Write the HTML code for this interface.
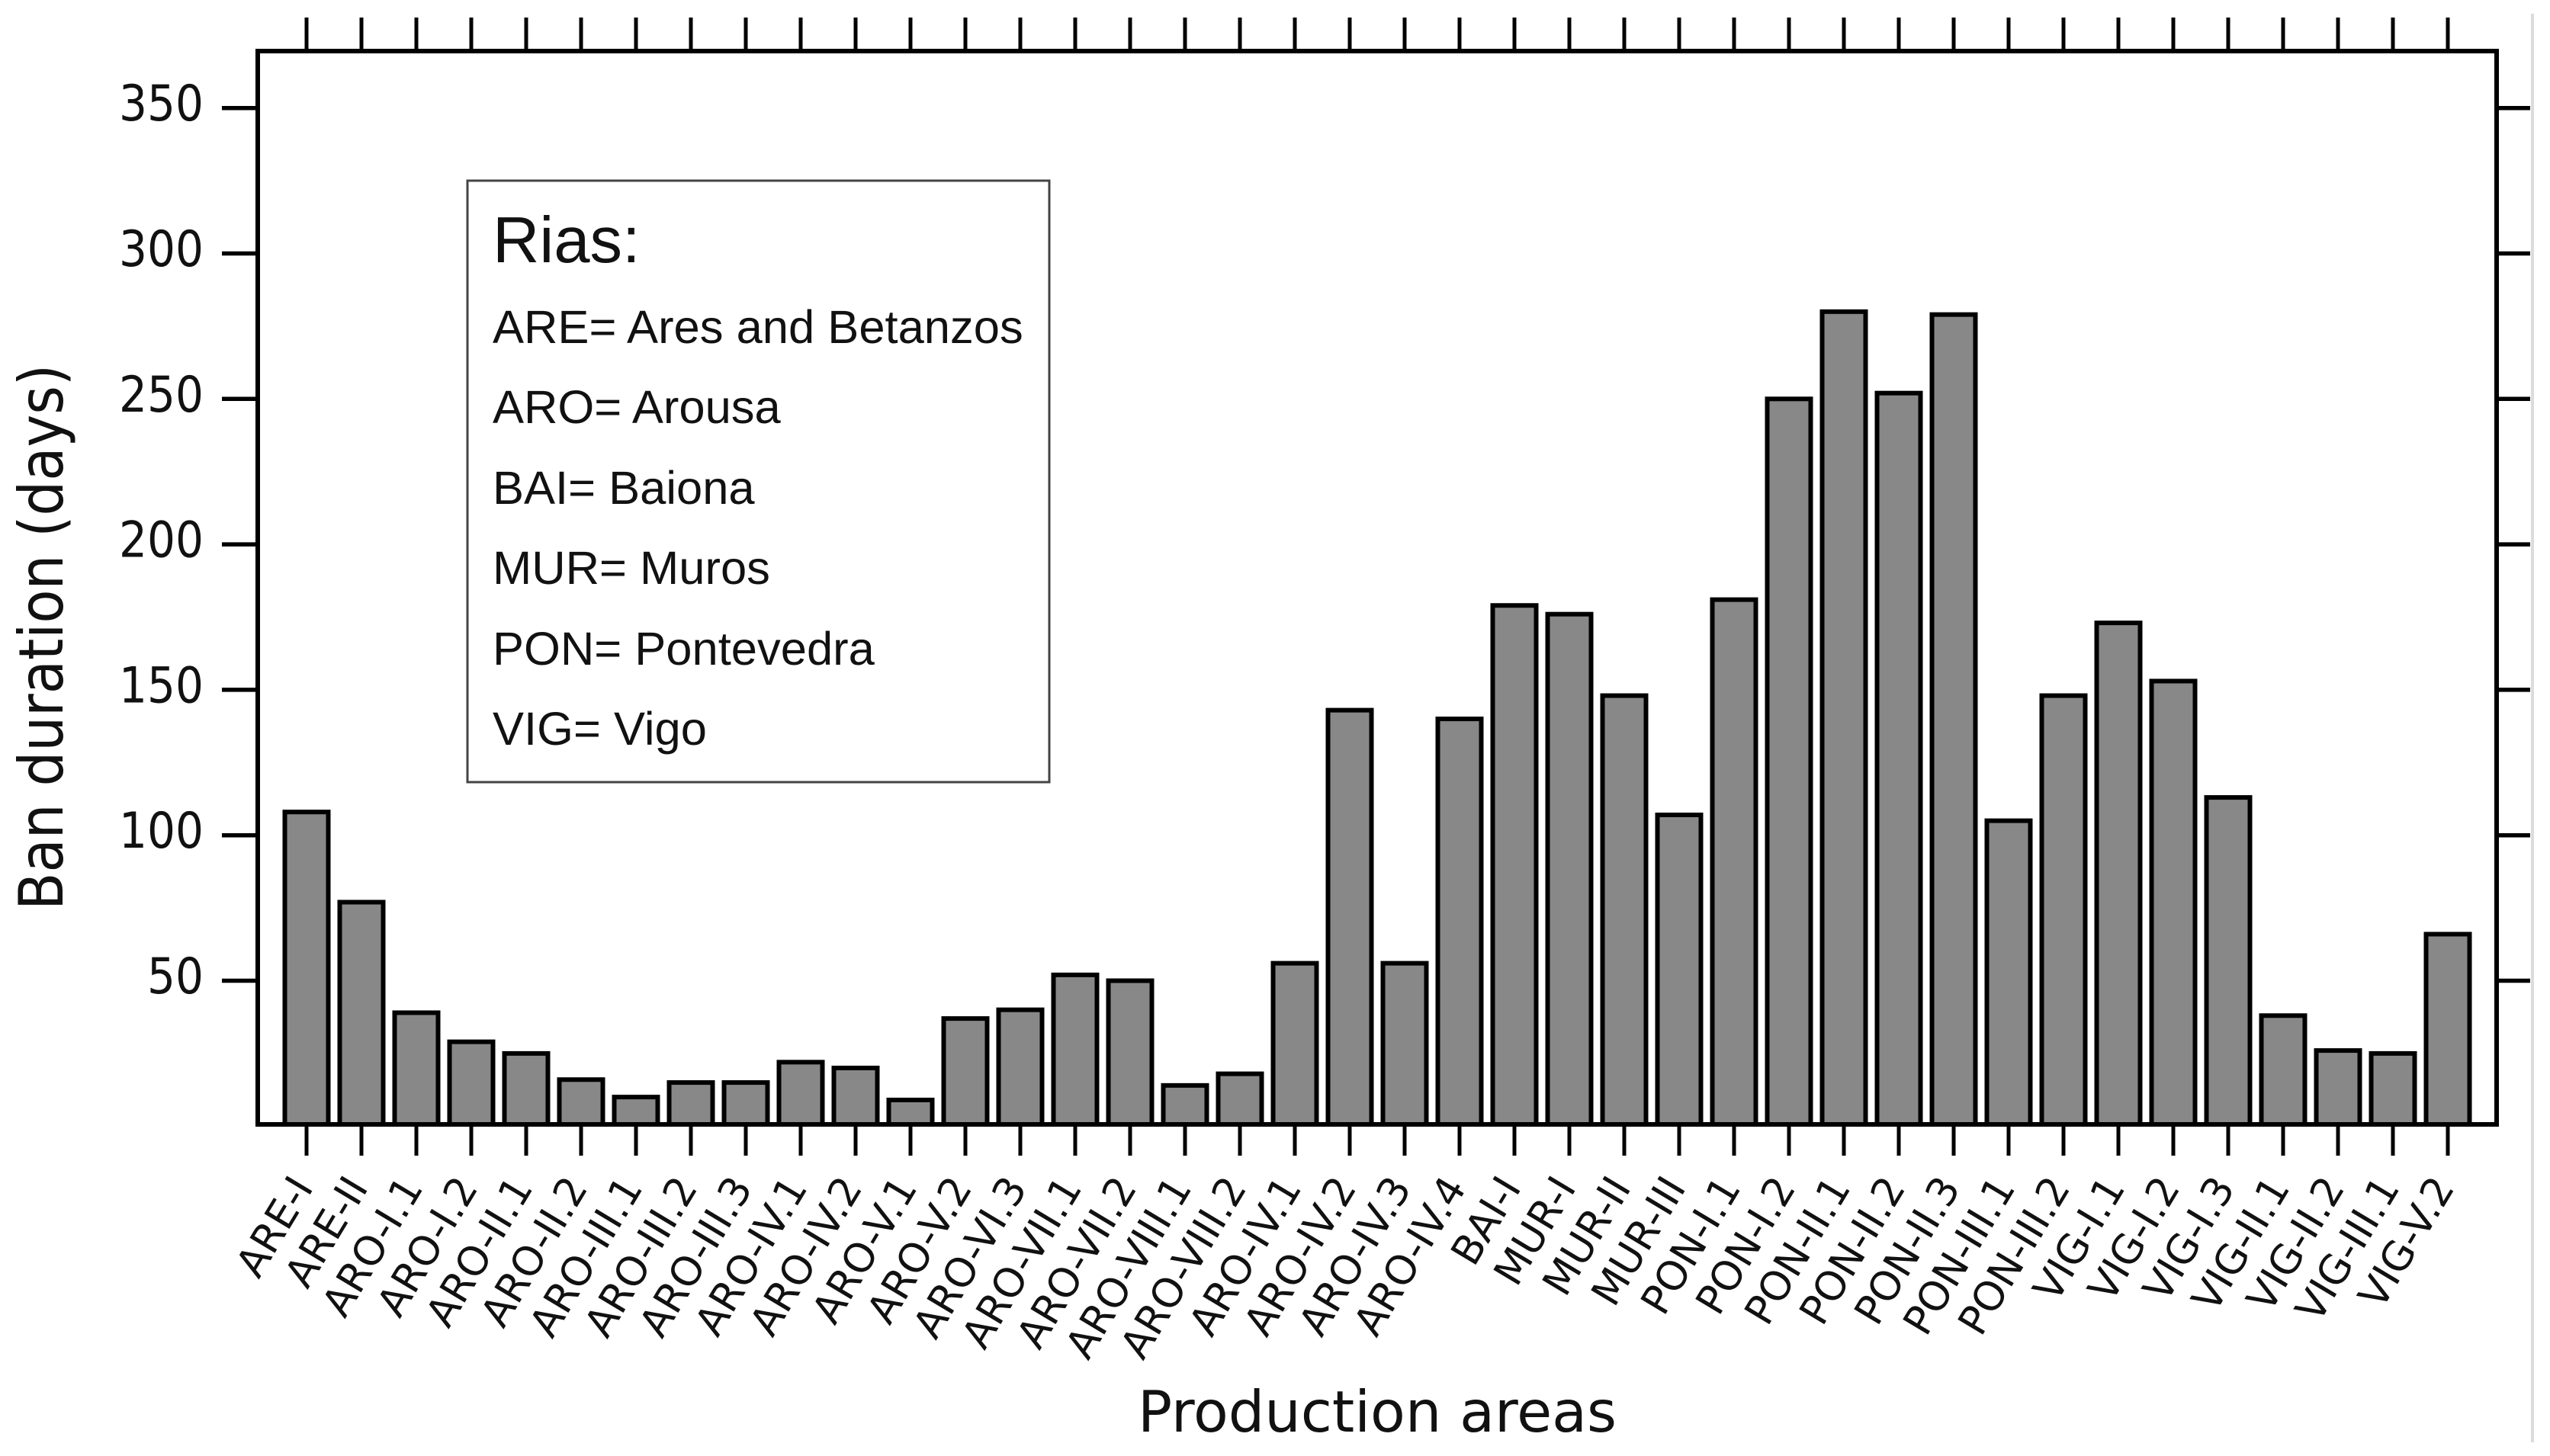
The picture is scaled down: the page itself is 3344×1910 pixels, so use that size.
<!DOCTYPE html>
<html lang="en">
<head>
<meta charset="utf-8">
<title>Ban duration by production area</title>
<style>
html,body{margin:0;padding:0;background:#fff;width:3344px;height:1910px;overflow:hidden}
svg{display:block}
text{fill:#111}
</style>
</head>
<body>
<svg id="chart" xmlns="http://www.w3.org/2000/svg" width="3344" height="1910" viewBox="0 0 3344 1910">
  <rect x="0" y="0" width="3344" height="1910" fill="#fff"/>
  <line x1="3321" y1="18" x2="3321" y2="1892" stroke="#dcdcdc" stroke-width="4"/>
  <g id="bars"></g>
  <g id="ticks"></g>
  <rect x="338" y="67" width="2936" height="1408" fill="none" stroke="#000" stroke-width="6"/>
  <g id="xlabels" font-family="'DejaVu Sans',sans-serif" font-size="53"></g>
  <g id="ylabels" font-family="'DejaVu Sans',sans-serif" font-size="65"></g>
  <text transform="translate(82,836) rotate(-90)" text-anchor="middle" font-family="'DejaVu Sans',sans-serif" font-size="80" textLength="716" lengthAdjust="spacingAndGlyphs">Ban duration (days)</text>
  <text x="1492" y="1878" font-family="'DejaVu Sans',sans-serif" font-size="75" textLength="628" lengthAdjust="spacingAndGlyphs">Production areas</text>
  <g font-family="'Liberation Sans',sans-serif" font-size="61.5">
    <rect x="613" y="237" width="763" height="789" fill="#fff" stroke="#444" stroke-width="3"/>
    <text x="646" y="344" font-size="85">Rias:</text>
    <text x="646" y="450">ARE= Ares and Betanzos</text>
    <text x="646" y="555">ARO= Arousa</text>
    <text x="646" y="661">BAI= Baiona</text>
    <text x="646" y="766">MUR= Muros</text>
    <text x="646" y="872">PON= Pontevedra</text>
    <text x="646" y="977">VIG= Vigo</text>
  </g>
</svg>
<script>
var categories = ["ARE-I","ARE-II","ARO-I.1","ARO-I.2","ARO-II.1","ARO-II.2","ARO-III.1","ARO-III.2","ARO-III.3","ARO-IV.1","ARO-IV.2","ARO-V.1","ARO-V.2","ARO-VI.3","ARO-VII.1","ARO-VII.2","ARO-VIII.1","ARO-VIII.2","ARO-IV.1","ARO-IV.2","ARO-IV.3","ARO-IV.4","BAI-I","MUR-I","MUR-II","MUR-III","PON-I.1","PON-I.2","PON-II.1","PON-II.2","PON-II.3","PON-III.1","PON-III.2","VIG-I.1","VIG-I.2","VIG-I.3","VIG-II.1","VIG-II.2","VIG-III.1","VIG-V.2"];
var banDays = [108,77,39,29,25,16,10,15,15,22,20,9,37,40,52,50,14,18,56,143,56,140,179,176,148,107,181,250,280,252,279,105,148,173,153,113,38,26,25,66];
var yTickValues = [50,100,150,200,250,300,350];

var SVGNS = 'http://www.w3.org/2000/svg';
function xScale(i){ return 402 + i * (3210 - 402) / (categories.length - 1); }
function yScale(v){ return 1477.3 - v * 3.816; }
function make(tag, attrs, parent){
  var el = document.createElementNS(SVGNS, tag);
  for (var k in attrs) el.setAttribute(k, attrs[k]);
  parent.appendChild(el);
  return el;
}
var barsG = document.getElementById('bars');
var ticksG = document.getElementById('ticks');
var xG = document.getElementById('xlabels');
var yG = document.getElementById('ylabels');
var BAR_W = 57;

categories.forEach(function(cat, i){
  var cx = xScale(i);
  var top = yScale(banDays[i]);
  var bar = make('rect', {x: cx - BAR_W / 2, y: top, width: BAR_W, height: 1475 - top, fill: '#888888', stroke: '#000', 'stroke-width': 6}, barsG);
  
  
  var tb = make('line', {x1: cx, y1: 1475, x2: cx, y2: 1516, stroke: '#000', 'stroke-width': 5}, ticksG);
  
  
  var tt = make('line', {x1: cx, y1: 67, x2: cx, y2: 23, stroke: '#000', 'stroke-width': 5}, ticksG);
  
  
  var lx = cx + 10, ly = 1558;
  var lab = make('text', {transform: 'translate(' + lx + ',' + ly + ') rotate(-59)', 'text-anchor': 'end'}, xG);
  
  
  lab.textContent = cat;
});

yTickValues.forEach(function(v){
  var y = yScale(v);
  var tl = make('line', {x1: 291, y1: y, x2: 338, y2: y, stroke: '#000', 'stroke-width': 5.5}, ticksG);
  
  
  var tr = make('line', {x1: 3274, y1: y, x2: 3318, y2: y, stroke: '#000', 'stroke-width': 5.5}, ticksG);
  
  
  var s = String(v);
  var lab = make('text', {x: 267, y: y + 16.5, 'text-anchor': 'end', textLength: s.length * 37, lengthAdjust: 'spacingAndGlyphs'}, yG);
  
  
  lab.textContent = s;
});
</script>
</body>
</html>
